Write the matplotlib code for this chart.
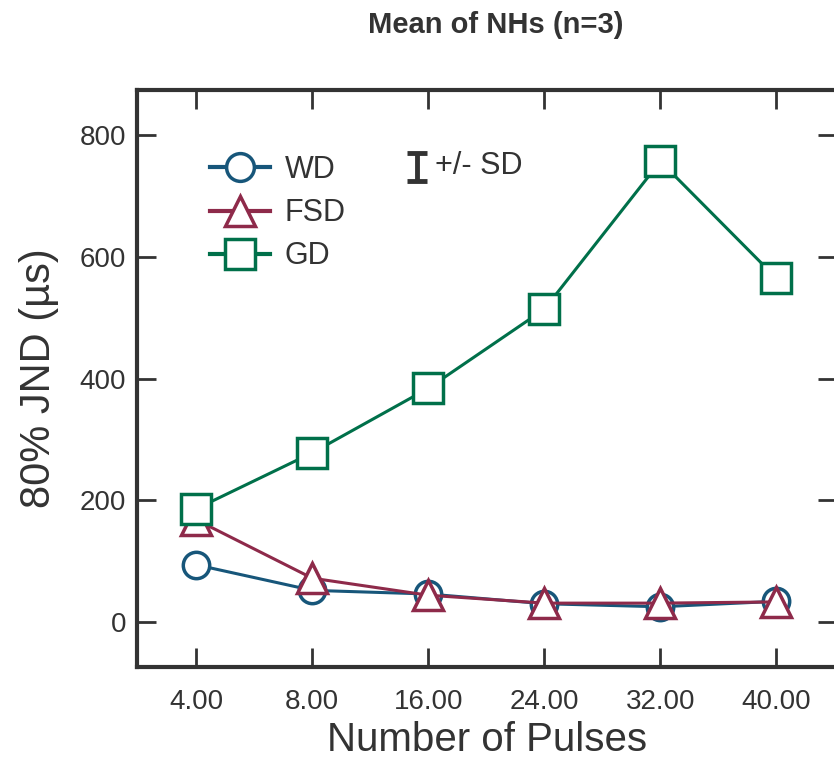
import matplotlib.pyplot as plt
from matplotlib.lines import Line2D

plt.rcParams['font.family'] = ['Liberation Sans', 'DejaVu Sans']

# Daten
pulses = ['4.00', '8.00', '16.00', '24.00', '32.00', '40.00']
wd = [94, 52, 46, 30, 25, 34]
fsd = [168, 72, 44, 31, 31, 33]
gd = [186, 278, 384, 514, 757, 565]

c_wd = '#17567a'
c_fsd = '#8e2a4a'
c_gd = '#00704a'
dark = '#333333'

fig = plt.figure(figsize=(8.34, 7.61), dpi=100)
ax = fig.add_axes([0.1643, 0.1235, 0.839, 0.758])

x = range(len(pulses))
ax.plot(x, wd, color=c_wd, lw=2.2, marker='o', ms=19, mfc='white', mec=c_wd, mew=2.5, label='WD')
ax.plot(x, fsd, color=c_fsd, lw=2.2, marker='^', ms=22, mfc='white', mec=c_fsd, mew=2.5, label='FSD')
ax.plot(x, gd, color=c_gd, lw=2.2, marker='s', ms=22, mfc='white', mec=c_gd, mew=2.5, label='GD')

ax.set_xlim(-0.51, 5.52)
ax.set_ylim(-74, 874)
ax.set_xticks(list(x))
ax.set_xticklabels(pulses)
ax.set_yticks([0, 200, 400, 600, 800])

for s in ax.spines.values():
    s.set_linewidth(3)
    s.set_color(dark)

ax.tick_params(direction='in', length=14, width=2, color=dark, labelcolor=dark,
               labelsize=20, top=True, right=True)
ax.tick_params(axis='x', pad=16)
ax.tick_params(axis='y', pad=8)

ax.set_xlabel('Number of Pulses', fontsize=29, color=dark, labelpad=4)
ax.set_ylabel('80% JND (µs)', fontsize=30, color=dark, labelpad=15)
fig.suptitle('Mean of NHs (n=3)', fontsize=21, fontweight='bold', color=dark, x=0.594, y=0.985)

handles = [
    Line2D([], [], color=c_wd, lw=3, marker='o', ms=20, mfc='white', mec=c_wd, mew=2.5),
    Line2D([], [], color=c_fsd, lw=3, marker='^', ms=22, mfc='white', mec=c_fsd, mew=2.5),
    Line2D([], [], color=c_gd, lw=3, marker='s', ms=21, mfc='white', mec=c_gd, mew=2.5),
]
ax.legend(handles, ['WD', 'FSD', 'GD'], loc='upper left', bbox_to_anchor=(0.065, 0.935),
          frameon=False, fontsize=22, handlelength=1.95, labelspacing=0.43,
          handletextpad=0.5, labelcolor=dark)

# Fehlerbalken-Symbol fuer die Legende
ax.errorbar([0.40], [0.8666], yerr=0.024, fmt='none', ecolor=dark, elinewidth=3.5,
            capsize=7.5, capthick=3.5, transform=ax.transAxes, clip_on=False)
ax.text(0.426, 0.868, '+/- SD', transform=ax.transAxes, fontsize=22, color=dark, va='center')

fig.savefig('out.png', dpi=100)
